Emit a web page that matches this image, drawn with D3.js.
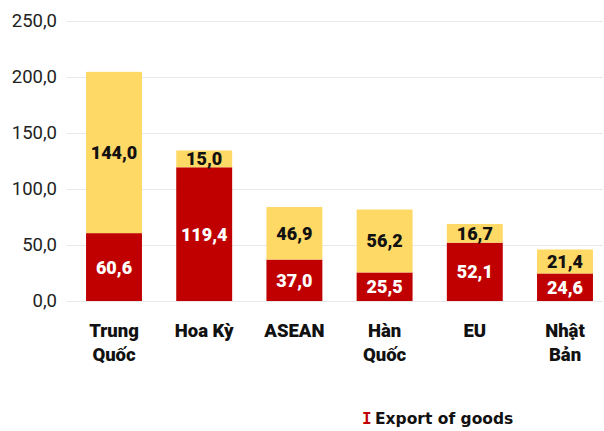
<!DOCTYPE html>
<html>
<head>
<meta charset="utf-8">
<script src="https://cdn.jsdelivr.net/npm/d3@7"></script>
<style>
  html, body { margin: 0; padding: 0; background: #fff; }
  svg { display: block; }
</style>
</head>
<body>
<svg id="chart" width="604" height="431"></svg>
<script>
// Trade by partner (billion USD): exports (red, bottom) and imports (yellow, top)
const categories = [["Trung", "Quốc"], ["Hoa Kỳ"], ["ASEAN"], ["Hàn", "Quốc"], ["EU"], ["Nhật", "Bản"]];
const exportValues = [60.6, 119.4, 37.0, 25.5, 52.1, 24.6];
const importValues = [144.0, 15.0, 46.9, 56.2, 16.7, 21.4];
const yTicks = [0, 50, 100, 150, 200, 250];
const legendLabel = "Export of goods";

const RED = "#C00000";
const YELLOW = "#FFD966";
const fmt = v => d3.format(".1f")(v).replace(".", ",");

const svg = d3.select("#chart");
const keys = categories.map(c => c.join(" "));

const x = d3.scaleBand()
  .domain(keys)
  .range([68, 611])
  .paddingInner(0.38)
  .paddingOuter(0.2);

const y = d3.scaleLinear()
  .domain([0, 250])
  .range([301, 21]);

// Horizontal gridlines with tick labels
const yAxis = d3.axisLeft(y)
  .tickValues(yTicks)
  .tickFormat(fmt)
  .tickSize(-(603 - 67))
  .tickPadding(10);

const gy = svg.append("g")
  .attr("transform", "translate(67,0)")
  .call(yAxis);
gy.select(".domain").remove();
gy.selectAll(".tick line").attr("stroke", "#e8e8e8").attr("stroke-width", 1);
gy.selectAll(".tick text")
  .attr("x", -10)
  .attr("fill", "#222")
  .style("font-family", "Roboto, sans-serif")
  .style("font-size", "18.5px");

// Stacked bars
const rows = keys.map((k, i) => ({ key: k, exp: exportValues[i], imp: importValues[i] }));

const bars = svg.append("g");
bars.selectAll("rect.exp")
  .data(rows)
  .join("rect")
  .attr("class", "exp")
  .attr("x", d => x(d.key))
  .attr("width", x.bandwidth())
  .attr("y", d => y(d.exp))
  .attr("height", d => y(0) - y(d.exp))
  .attr("fill", RED);

bars.selectAll("rect.imp")
  .data(rows)
  .join("rect")
  .attr("class", "imp")
  .attr("x", d => x(d.key))
  .attr("width", x.bandwidth())
  .attr("y", d => y(d.exp + d.imp))
  .attr("height", d => y(d.exp) - y(d.exp + d.imp))
  .attr("fill", YELLOW);

// Segment value labels
const labels = svg.append("g")
  .style("font-family", "Roboto, sans-serif")
  .style("font-size", "18px")
  .style("font-weight", "900")
  .attr("text-anchor", "middle");

labels.selectAll("text.exp")
  .data(rows)
  .join("text")
  .attr("class", "exp")
  .attr("x", d => x(d.key) + x.bandwidth() / 2)
  .attr("y", d => (y(0) + y(d.exp)) / 2)
  .attr("dy", "0.36em")
  .attr("fill", "#fff")
  .text(d => fmt(d.exp));

labels.selectAll("text.imp")
  .data(rows)
  .join("text")
  .attr("class", "imp")
  .attr("x", d => x(d.key) + x.bandwidth() / 2)
  .attr("y", d => (y(d.exp) + y(d.exp + d.imp)) / 2)
  .attr("dy", "0.36em")
  .attr("fill", "#111")
  .text(d => fmt(d.imp));

// Category labels (up to two lines)
const cat = svg.append("g")
  .style("font-family", "Roboto, sans-serif")
  .style("font-size", "18.5px")
  .style("font-weight", "900")
  .attr("text-anchor", "middle")
  .attr("fill", "#111");

categories.forEach((lines, i) => {
  const cx = x(keys[i]) + x.bandwidth() / 2;
  const t = cat.append("text")
    .attr("x", cx)
    .attr("y", 337);
  lines.forEach((ln, j) => {
    t.append("tspan")
      .attr("x", cx)
      .attr("dy", j === 0 ? 0 : 24)
      .text(ln);
  });
});

// Legend
const legend = svg.append("g").attr("transform", "translate(362,424)");
legend.append("text")
  .attr("x", 0)
  .attr("fill", RED)
  .style("font-family", "'DejaVu Sans Mono', monospace")
  .style("font-weight", "bold")
  .style("font-size", "16px")
  .text("I");
legend.append("text")
  .attr("x", 13)
  .attr("fill", "#111")
  .style("font-family", "'DejaVu Sans', sans-serif")
  .style("font-weight", "bold")
  .style("font-size", "15.5px")
  .text(legendLabel);
</script>
</body>
</html>
